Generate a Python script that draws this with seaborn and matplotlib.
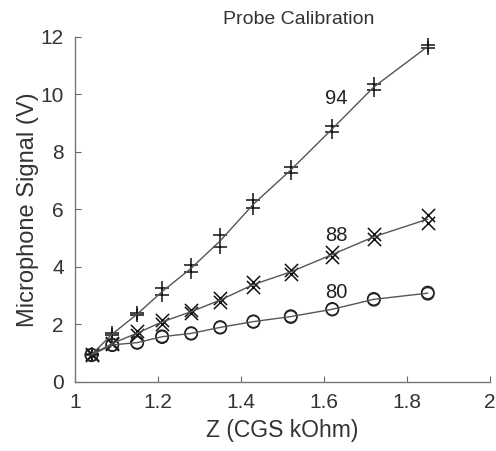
import numpy as np
import pandas as pd
import matplotlib
matplotlib.use("Agg")
import matplotlib.pyplot as plt
import seaborn as sns

# impedance values (CGS kOhm)
z_vals = [1.04, 1.09, 1.15, 1.21, 1.28, 1.35, 1.43, 1.52, 1.62, 1.72, 1.85]

# two readings per point for each level
sig_94_a = [0.96, 1.72, 2.39, 3.26, 4.07, 5.11, 6.33, 7.49, 8.90, 10.37, 11.72]
sig_94_b = [0.94, 1.62, 2.33, 3.03, 3.84, 4.71, 6.04, 7.26, 8.71, 10.15, 11.62]
sig_88_a = [0.96, 1.36, 1.77, 2.16, 2.50, 2.91, 3.49, 3.90, 4.53, 5.14, 5.81]
sig_88_b = [0.94, 1.32, 1.63, 2.02, 2.39, 2.79, 3.29, 3.76, 4.34, 4.96, 5.52]
sig_80_a = [0.95, 1.30, 1.38, 1.59, 1.70, 1.91, 2.11, 2.29, 2.54, 2.89, 3.11]
sig_80_b = [0.93, 1.28, 1.36, 1.56, 1.68, 1.89, 2.09, 2.26, 2.52, 2.86, 3.07]

levels = ["94", "88", "80"]
level_markers = {"94": "+", "88": "x", "80": "o"}
label_pos = {"94": (1.602, 9.86), "88": (1.602, 5.08), "80": (1.602, 3.11)}

rows = []
for lev, a, b in [("94", sig_94_a, sig_94_b), ("88", sig_88_a, sig_88_b), ("80", sig_80_a, sig_80_b)]:
    for z, ya, yb in zip(z_vals, a, b):
        rows.append({"Z": z, "V": ya, "level": lev})
        rows.append({"Z": z, "V": yb, "level": lev})
df = pd.DataFrame(rows)

sns.set_style("ticks")
plt.rcParams["font.family"] = ["Liberation Sans", "DejaVu Sans"]
txt = "#333333"

fig = plt.figure(figsize=(4.96, 4.51), dpi=100)
ax = fig.add_axes([0.151, 0.153, 0.837, 0.765])

for lev in levels:
    sub = df[df["level"] == lev]
    sns.lineplot(data=sub, x="Z", y="V", errorbar=None, color="#555555",
                 linewidth=1.0, ax=ax)
    if level_markers[lev] == "o":
        sns.scatterplot(data=sub, x="Z", y="V", marker="o", s=80,
                        facecolors="none", edgecolor="#222222", linewidth=1.0, ax=ax)
    else:
        sns.scatterplot(data=sub, x="Z", y="V", marker=level_markers[lev], s=90,
                        color="#111111", linewidth=1.1, ax=ax)
    lx, ly = label_pos[lev]
    ax.text(lx, ly, lev, fontsize=14.5, color="#222222", ha="left", va="center")

ax.set_xlim(1, 2)
ax.set_ylim(0, 12)
ax.set_xticks([1, 1.2, 1.4, 1.6, 1.8, 2])
ax.set_xticklabels(["1", "1.2", "1.4", "1.6", "1.8", "2"])
ax.set_yticks([0, 2, 4, 6, 8, 10, 12])
ax.tick_params(direction="in", length=4, labelsize=15, colors="#666666",
               labelcolor=txt, pad=8)
sns.despine(ax=ax)
for sp in ["left", "bottom"]:
    ax.spines[sp].set_color("#777777")
    ax.spines[sp].set_linewidth(1.0)

ax.set_xlabel("Z (CGS kOhm)", fontsize=16.5, color=txt, labelpad=5)
ax.set_ylabel("Microphone Signal (V)", fontsize=17, color=txt, labelpad=1)
ax.set_title("Probe Calibration", fontsize=14, color=txt, x=0.54, pad=9)

fig.savefig("out.png", dpi=100)
